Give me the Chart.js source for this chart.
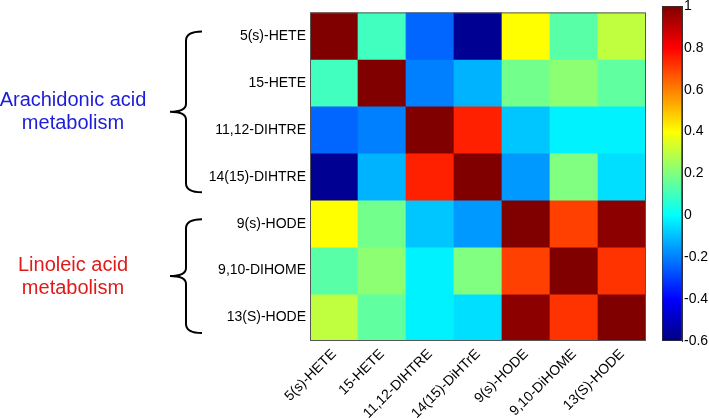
<!DOCTYPE html>
<html>
<head>
<meta charset="utf-8">
<script src="https://cdn.jsdelivr.net/npm/chart.js@4.4.1/dist/chart.umd.min.js"></script>
<style>
  body { margin: 0; background: #fff; }
  #wrap { position: relative; width: 709px; height: 419px; }
  #heat { position: absolute; left: 0; top: 0; }
  #cbar { position: absolute; left: 640px; top: 0; }
</style>
</head>
<body>
<div id="wrap">
  <canvas id="heat" width="709" height="419"></canvas>
  <canvas id="cbar" width="69" height="419"></canvas>
</div>
<script>
// column / row names (the picture spells them slightly differently on each axis)
const colLabels = ['5(s)-HETE', '15-HETE', '11,12-DIHTRE', '14(15)-DiHTrE', '9(s)-HODE', '9,10-DiHOME', '13(S)-HODE'];
const rowLabels = ['5(s)-HETE', '15-HETE', '11,12-DIHTRE', '14(15)-DIHTRE', '9(s)-HODE', '9,10-DIHOME', '13(S)-HODE'];

// correlation values, one array per row (top to bottom)
const hete5    = [1, 0.10, -0.24, -0.57, 0.40, 0.14, 0.30];
const hete15   = [0.10, 1, -0.20, -0.12, 0.18, 0.22, 0.15];
const dihtre11 = [-0.24, -0.20, 1, 0.75, -0.09, -0.02, -0.02];
const dihtre14 = [-0.57, -0.12, 0.75, 1, -0.16, 0.20, -0.05];
const hode9    = [0.40, 0.18, -0.09, -0.16, 1, 0.70, 0.98];
const dihome9  = [0.14, 0.22, -0.02, 0.20, 0.70, 1, 0.72];
const hode13   = [0.30, 0.15, -0.02, -0.05, 0.98, 0.72, 1];
const matrix = [hete5, hete15, dihtre11, dihtre14, hode9, dihome9, hode13];

// colour bar
const cMin = -0.6;
const cMax = 1;
const colorTicks = [-0.6, -0.4, -0.2, 0, 0.2, 0.4, 0.6, 0.8, 1];

// metabolite groups: label lines and row ranges
const groupLines = [['Arachidonic acid', 'metabolism'], ['Linoleic acid', 'metabolism']];
const groupRows = [[0, 4], [4, 7]];
const groupColors = ['#1c1cd9', '#e01b1b'];

const FONT = 'Liberation Sans, Arial, sans-serif';

function jet(v) {
  const t = (v - cMin) / (cMax - cMin);
  const c = x => Math.round(255 * Math.max(0, Math.min(1, x)));
  const r = c(1.5 - Math.abs(4 * t - 3));
  const g = c(1.5 - Math.abs(4 * t - 2));
  const b = c(1.5 - Math.abs(4 * t - 1));
  return `rgb(${r},${g},${b})`;
}

// braces and group names on the left, frame round the matrix
const groupPlugin = {
  id: 'groups',
  afterDraw(chart) {
    const ctx = chart.ctx;
    const y = chart.scales.y;
    const a = chart.chartArea;
    ctx.save();
    ctx.strokeStyle = '#555';
    ctx.lineWidth = 1;
    ctx.strokeRect(a.left + 0.5, a.top + 0.5, a.right - a.left - 1, a.bottom - a.top - 1);

    groupRows.forEach((rows, gi) => {
      const top = y.getPixelForValue(rows[0]) + 19;
      const bot = y.getPixelForValue(rows[1]) - 8;
      const mid = (top + bot) / 2;
      const xe = 202, xl = 186, xt = 170;
      ctx.beginPath();
      ctx.moveTo(xe, top);
      ctx.quadraticCurveTo(xl, top, xl, top + 9);
      ctx.lineTo(xl, mid - 8);
      ctx.quadraticCurveTo(xl, mid, xt, mid);
      ctx.quadraticCurveTo(xl, mid, xl, mid + 8);
      ctx.lineTo(xl, bot - 9);
      ctx.quadraticCurveTo(xl, bot, xe, bot);
      ctx.strokeStyle = '#000';
      ctx.lineWidth = 2;
      ctx.stroke();

      ctx.fillStyle = groupColors[gi];
      ctx.font = '20px ' + FONT;
      ctx.textAlign = 'center';
      ctx.textBaseline = 'middle';
      ctx.fillText(groupLines[gi][0], 73, mid - 11);
      ctx.fillText(groupLines[gi][1], 73, mid + 12);
    });
    ctx.restore();
  }
};

const datasets = matrix.map((row, i) => ({
  data: colLabels.map(() => [i, i + 1]),
  backgroundColor: row.map(jet),
  borderWidth: 0,
  grouped: false,
  barPercentage: 1,
  categoryPercentage: 1
}));

new Chart(document.getElementById('heat'), {
  type: 'bar',
  data: { labels: colLabels, datasets: datasets },
  options: {
    responsive: false,
    animation: false,
    layout: { padding: { left: 0, right: 63, top: 5, bottom: 0 } },
    plugins: { legend: { display: false }, tooltip: { enabled: false } },
    scales: {
      x: {
        grid: { display: false, drawTicks: false },
        border: { display: false },
        ticks: {
          autoSkip: false, minRotation: 45, maxRotation: 45,
          color: '#000', padding: 5,
          font: { family: FONT, size: 14 }
        },
        afterFit: s => { s.height = 78; }
      },
      y: {
        min: 0, max: 7, reverse: true,
        grid: { display: false, drawTicks: false },
        border: { display: false },
        afterBuildTicks: s => { s.ticks = rowLabels.map((_, i) => ({ value: i + 0.5 })); },
        ticks: {
          callback: (v, i) => rowLabels[i],
          color: '#000', padding: 4,
          font: { family: FONT, size: 14 }
        },
        afterFit: s => { s.width = 310; }
      }
    }
  },
  plugins: [groupPlugin]
});

new Chart(document.getElementById('cbar'), {
  type: 'bar',
  data: {
    labels: [''],
    datasets: [{
      data: [[cMin, cMax]],
      backgroundColor: context => {
        const ca = context.chart.chartArea;
        if (!ca) return null;
        const g = context.chart.ctx.createLinearGradient(0, ca.bottom, 0, ca.top);
        for (let k = 0; k <= 64; k++) g.addColorStop(k / 64, jet(cMin + k / 64 * (cMax - cMin)));
        return g;
      },
      borderColor: '#333',
      borderWidth: 1,
      borderSkipped: false,
      barPercentage: 1,
      categoryPercentage: 1
    }]
  },
  options: {
    responsive: false,
    animation: false,
    layout: { padding: { left: 22, right: 0, top: 6, bottom: 78 } },
    plugins: { legend: { display: false }, tooltip: { enabled: false } },
    scales: {
      x: { display: false },
      y: {
        position: 'right',
        min: cMin, max: cMax,
        afterBuildTicks: s => { s.ticks = colorTicks.map(v => ({ value: v })); },
        ticks: {
          callback: v => String(Math.round(v * 10) / 10),
          color: '#000', padding: 2,
          font: { family: FONT, size: 14 }
        },
        grid: { drawOnChartArea: false, drawTicks: false },
        border: { color: '#333' },
        afterFit: s => { s.width = 27; s.paddingTop = 0; s.paddingBottom = 0; }
      }
    }
  }
});
</script>
</body>
</html>
